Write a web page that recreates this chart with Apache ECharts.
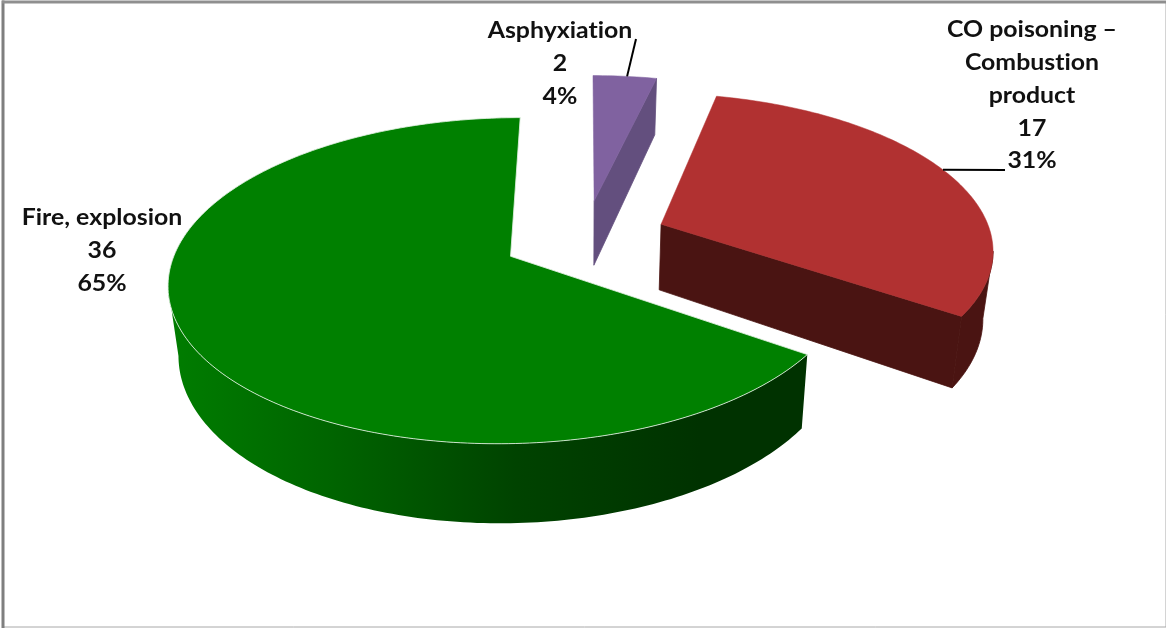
<!DOCTYPE html>
<html><head><meta charset="utf-8">
<style>html,body{margin:0;padding:0;background:#fff}#c{width:1166px;height:628px}</style>
<script src="https://cdn.jsdelivr.net/npm/echarts@6/dist/echarts.min.js"></script>
</head><body><div id="c"></div>
<script>
// Data, clockwise from 12 o'clock
const categories = ['Asphyxiation', 'CO poisoning –\nCombustion\nproduct', 'Fire, explosion'];
const values = [2, 17, 36];

// Styles and label placement
const topColors = ['#8062a0', '#b13131', '#008000'];
const wallColors = ['#634f7e', '#4a1412', null];
const topStrokes = [null, null, 'rgba(225,240,225,0.85)'];
const labelAnchors = [[560, 15], [1032, 14], [102, 202]];
const leaders = [{angle: 7, to: [636, 39]}, {angle: 67.5, to: [1005, 170]}, null];

// Plain letterforms, no "ti" ligature
const baseFillText = CanvasRenderingContext2D.prototype.fillText;
CanvasRenderingContext2D.prototype.fillText = function (...args) {
  this.textRendering = 'optimizeSpeed';
  return baseFillText.apply(this, args);
};

// Projection of the tilted disc
const P = {X0: 585, Y0: 238, rx: 331, ry: 154, k: 0.147, explode: 0.25, H: 66.5, Xv: 585, shrink: 0.975};
const total = values.reduce((a, b) => a + b, 0);
const rad = d => d * Math.PI / 180;
const project = (u, v) => {
  const s = 1 / (1 + P.k * v);
  return {x: P.X0 + P.rx * u * s, y: P.Y0 - P.ry * v * s, s};
};
const topPt = (u, v) => { const p = project(u, v); return [p.x, p.y]; };
const botPt = (u, v) => {
  const p = project(u, v);
  return [P.Xv + (p.x - P.Xv) * P.shrink, p.y + P.H * p.s];
};

function renderItem(params, api) {
  const i = params.dataIndex;
  const val = api.value(0);
  let before = 0;
  for (let j = 0; j < i; j++) before += values[j];
  const a0 = before / total * 360, a1 = a0 + val / total * 360, m = (a0 + a1) / 2;
  const cu = P.explode * Math.sin(rad(m)), cv = P.explode * Math.cos(rad(m));
  const ring = [];
  for (let a = a0; ; a += 1) {
    const t = Math.min(a, a1);
    ring.push([cu + Math.sin(rad(t)), cv + Math.cos(rad(t))]);
    if (t >= a1) break;
  }
  const apex = [cu, cv];
  const children = [];
  const solid = wallColors[i];
  const wallFill = solid || {
    type: 'linear', x: 175, y: 0, x2: 700, y2: 0, global: true,
    colorStops: [
      {offset: 0, color: '#007c00'}, {offset: 0.3, color: '#006400'},
      {offset: 0.65, color: '#004300'}, {offset: 1, color: '#003200'}
    ]
  };
  const wall = line => children.push({
    type: 'polygon',
    shape: {points: line.map(p => topPt(p[0], p[1])).concat(line.slice().reverse().map(p => botPt(p[0], p[1])))},
    style: solid ? {fill: wallFill, stroke: solid, lineWidth: 0.8} : {fill: wallFill}
  });
  // Radial walls only show when they face the viewer
  if (Math.cos(rad(a0 - 90)) < -1e-6) wall([apex, ring[0]]);
  if (Math.cos(rad(a1 + 90)) < -1e-6) wall([apex, ring[ring.length - 1]]);
  // Only the stretch of the rim that runs right-to-left faces the viewer
  let chunk = [];
  for (let n = 1; n < ring.length; n++) {
    const d = topPt(ring[n][0], ring[n][1])[0] - topPt(ring[n - 1][0], ring[n - 1][1])[0];
    if (d < 0) {
      if (!chunk.length) chunk.push(ring[n - 1]);
      chunk.push(ring[n]);
    }
  }
  if (chunk.length) wall(chunk);
  children.push({
    type: 'polygon',
    shape: {points: [apex].concat(ring).map(p => topPt(p[0], p[1]))},
    style: {fill: topColors[i], stroke: topStrokes[i] || topColors[i], lineWidth: topStrokes[i] ? 1 : 0.5}
  });
  if (leaders[i]) {
    const l = leaders[i];
    const from = topPt(cu + Math.sin(rad(l.angle)), cv + Math.cos(rad(l.angle)));
    children.push({
      type: 'line',
      shape: {x1: from[0], y1: from[1], x2: l.to[0], y2: l.to[1]},
      style: {stroke: '#000', lineWidth: 2}
    });
  }
  children.push({
    type: 'text', x: labelAnchors[i][0], y: labelAnchors[i][1], scaleX: 1.13,
    style: {
      text: categories[i] + '\n' + val + '\n' + Math.round(val / total * 100) + '%',
      align: 'center', verticalAlign: 'top',
      fontFamily: 'Lato', fontWeight: 'bold', fontSize: 22, lineHeight: 32.7, fill: '#111'
    }
  });
  return {type: 'group', children};
}

const chart = echarts.init(document.getElementById('c'), null, {renderer: 'canvas'});
chart.setOption({
  animation: false,
  backgroundColor: '#fff',
  graphic: [
    {type: 'rect', z: 10, shape: {x: 3, y: 2, width: 1163, height: 625}, style: {fill: 'none', stroke: '#a8a8a8', lineWidth: 1}},
    {type: 'line', z: 10, shape: {x1: 3, y1: 0.5, x2: 3, y2: 628}, style: {stroke: '#7f7f7f', lineWidth: 3}},
    {type: 'line', z: 10, shape: {x1: 2, y1: 2, x2: 1166, y2: 2}, style: {stroke: '#8f8f8f', lineWidth: 3}}
  ],
  series: [{
    type: 'custom',
    coordinateSystem: 'none',
    renderItem,
    data: values.map(v => [v]),
    silent: true
  }]
});
</script></body></html>
